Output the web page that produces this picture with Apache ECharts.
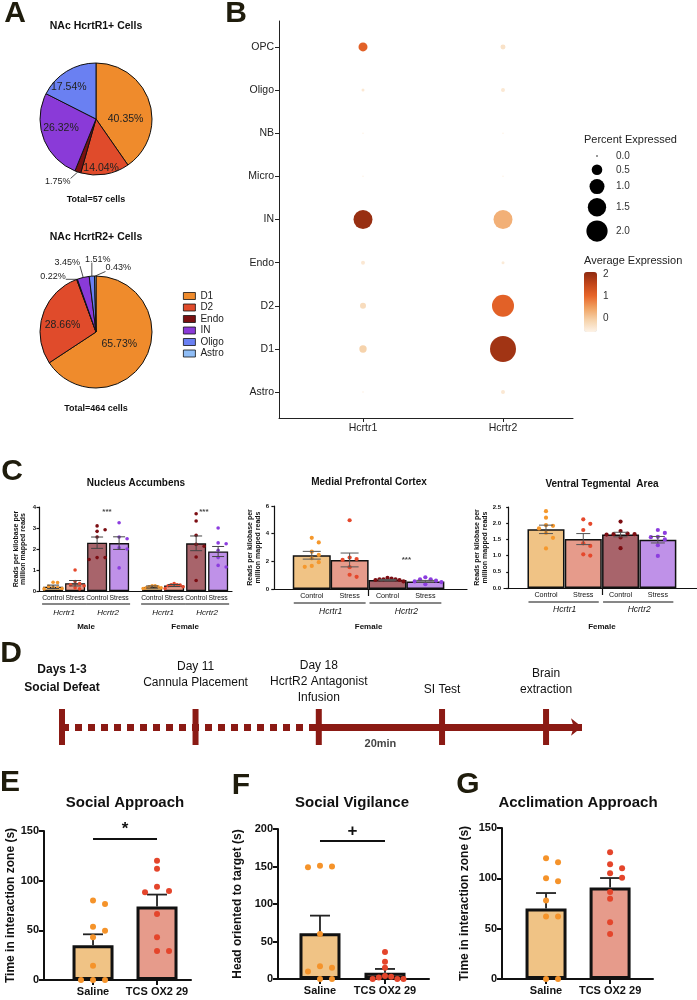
<!DOCTYPE html>
<html><head><meta charset="utf-8">
<script src="https://cdn.jsdelivr.net/npm/echarts@6/dist/echarts.min.js"></script>
<style>html,body{margin:0;padding:0;background:#fff}#c{width:697px;height:1000px}</style>
</head><body><div id="c"></div>
<script>
// ================= DATA =================
// A: pie charts (percent of cells)
const cellTypes = ['D1','D2','Endo','IN','Oligo','Astro'];
const pieR1Pct = [40.35, 14.04, 1.75, 26.32, 17.54, 0];
const pieR2Pct = [65.73, 28.66, 0.22, 3.45, 1.51, 0.43];
const pieTitles = ['NAc HcrtR1+ Cells', 'NAc HcrtR2+ Cells'];
const pieTotals = ['Total=57 cells', 'Total=464 cells'];

// B: dot plot (bottom to top)
const dotGenes = ['Hcrtr1','Hcrtr2'];
const dotCellTypes = ['Astro','D1','D2','Endo','IN','Micro','NB','Oligo','OPC'];
const pctHcrtr1 = [0.004, 0.24, 0.16, 0.07, 1.6, 0.002, 0.004, 0.04, 0.36];
const pctHcrtr2 = [0.07, 3.0, 2.15, 0.04, 1.6, 0.003, 0.003, 0.07, 0.11];
const expHcrtr1 = [-0.55, -0.1, -0.25, -0.45, 2.0, -0.6, -0.6, -0.45, 1.1];
const expHcrtr2 = [-0.45, 1.9, 1.1, -0.5, 0.3, -0.6, -0.6, -0.45, -0.35];
const pctLegendBreaks = [0.0, 0.5, 1.0, 1.5, 2.0];
const expColorTicks = [0, 1, 2];

// C: RNA-seq RPKM
const rnaGroups = ['Control','Stress','Control','Stress'];
const rnaGenes = ['Hcrtr1','Hcrtr2'];
const sexes = ['Male','Female'];
const nacMean = [[0.20, 0.37, 2.30, 2.28], [0.19, 0.26, 2.27, 1.88]];
const nacSem  = [[0.08, 0.13, 0.27, 0.30], [0.05, 0.05, 0.35, 0.24]];
const nacPts = [
  [[0.42, 0.40, 0.22, 0.18, 0.15, 0.12, 0.10],
   [1.0, 0.45, 0.35, 0.30, 0.25, 0.15, 0.10],
   [3.10, 2.92, 2.84, 2.57, 1.59, 1.59, 1.50],
   [3.25, 2.57, 2.49, 2.06, 2.00, 1.10]],
  [[0.25, 0.25, 0.20, 0.20, 0.15, 0.15, 0.12],
   [0.35, 0.30, 0.30, 0.28, 0.25, 0.20, 0.12],
   [3.68, 3.33, 2.65, 2.22, 2.13, 1.62, 0.50],
   [3.00, 2.29, 2.25, 1.94, 1.59, 1.22, 1.14]]
];
const pfcMean = [2.44, 2.10, 0.65, 0.55];
const pfcSem  = [0.28, 0.50, 0.04, 0.07];
const pfcPts = [
  [3.70, 3.37, 2.70, 2.46, 2.22, 1.94, 1.67, 1.60],
  [4.97, 2.27, 2.17, 2.10, 1.58, 1.03, 0.88],
  [0.80, 0.75, 0.70, 0.70, 0.70, 0.65, 0.65, 0.55],
  [0.85, 0.70, 0.70, 0.60, 0.55, 0.50, 0.35]
];
const vtaMean = [1.81, 1.51, 1.65, 1.49];
const vtaSem  = [0.13, 0.17, 0.07, 0.10];
const vtaPts = [
  [2.37, 2.17, 1.94, 1.92, 1.84, 1.70, 1.55, 1.22],
  [2.12, 1.98, 1.79, 1.38, 1.30, 1.04, 1.00],
  [2.05, 1.76, 1.68, 1.66, 1.66, 1.65, 1.56, 1.23],
  [1.79, 1.70, 1.58, 1.57, 1.50, 1.32, 0.99]
];
const cTitles = ['Nucleus Accumbens', 'Medial Prefrontal Cortex', 'Ventral Tegmental  Area'];
const rpkmTitle = 'Reads per kilobase per\nmillion mapped reads';

// D: timeline (schematic stage positions)
const eventLabels = ['Days 1-3\nSocial Defeat', 'Day 11\nCannula Placement', 'Day 18\nHcrtR2 Antagonist\nInfusion', 'SI Test', 'Brain\nextraction'];
const eventPos = [0, 1.04, 2, 2.96, 3.77];
const timelineEnd = 4.05;
const intervalLabel = '20min';

// E-G: behaviour
const behavGroups = ['Saline', 'TCS OX2 29'];
const approachMean = [35, 74];
const approachSem = [11, 12];
const approachPts = [[80, 76.5, 53.7, 49.7, 43, 14.4, 0, 0, 0], [120, 112, 94, 89.6, 88.3, 66.4, 43, 29.2, 29.2]];
const vigilanceMean = [61, 8.4];
const vigilanceSem = [23.5, 5];
const vigilancePts = [[151, 150, 149, 60, 17, 15, 10, 0, 0], [36, 23, 15, 4, 3, 2, 0, 0, 0]];
const acclimMean = [70, 91];
const acclimSem = [15.4, 9.3];
const acclimPts = [[120, 116, 100, 97, 78, 62, 62, 0, 0], [126, 114, 110, 105, 100.6, 86.4, 79.8, 56.3, 44.7]];
const behavTitles = ['Social Approach', 'Social Vigilance', 'Acclimation Approach'];
const behavYTitles = ['Time in interaction zone (s)', 'Head oriented to target (s)', 'Time in interaction zone (s)'];
const sigMarks = ['*', '+', null];
const sigLevel = [142, 184, null];

// ================= STYLE / LAYOUT =================
const FONT = "'Liberation Sans', Arial, Helvetica, sans-serif";
const INK = '#111';
const LETTER = '#1f1c0c';
const palette = {D1:'#ef8b2c', D2:'#e04b2b', Endo:'#7a1010', IN:'#8a3ad8', Oligo:'#6a80f2', Astro:'#8fbdf6'};
const cBar = ['#f0c385', '#e69b8b', '#a8646b', '#bf91e8'];
const cDot = ['#f5982c', '#e5482c', '#7c0d12', '#8c3ddf'];
const eBar = ['#f0c385', '#e69b8b'];
const eDot = ['#f5932a', '#e4452b'];
const timeColor = '#8b1a14';
const expColors = ['#fdf3e7', '#f6d2aa', '#f0a262', '#e8662a', '#c2461a', '#8e2a10'];

const pieLayout = [{center:[96,119], r:56, title:[96,26], total:[96,200]}, {center:[96,332], r:56, title:[96,237], total:[96,409]}];
const pieNudge = [
  {D1:[0,9], D2:[0,19], IN:[-6,-2], Oligo:[-11,-5], Endo:[-20,10]},
  {D1:[-4,-3], D2:[-4,3], Endo:[-24,-3], IN:[-16,-15], Oligo:[6,-17], Astro:[23,-8]}
];
const G = {
  B:  {left:279, top:21, width:294, height:397, xMin:0.4, xMax:2.5, yMin:0.4, yMax:9.6},
  C1: {left:39, top:507, width:193, height:84, xMin:0.36, xMax:9.13, yMax:4, yInt:1, barW:20, dot:3.6, collY:5, step:8, limit:9, cap:6, nameGap:12, lab:[13,22,36]},
  C2: {left:272, top:506, width:195, height:83, xMin:-0.05, xMax:5.1, yMax:6, yInt:2, barW:38, dot:4.2, collY:6, step:7, limit:16, cap:9, nameGap:10, lab:[14,23,38]},
  C3: {left:504, top:507, width:193, height:81, xMin:-0.126, xMax:5.05, yMax:2.5, yInt:0.5, barW:37, dot:4.2, collY:6, step:7, limit:16, cap:7, nameGap:12, lab:[14,22,39]},
  D:  {left:62, top:707, width:520, height:40, xMin:0, xMax:4.05},
  E:  {left:44, top:831, width:147, height:149, xMin:0.234, xMax:2.531, yMax:150, nameGap:26},
  F:  {left:278, top:829, width:151, height:150, xMin:0.354, xMax:2.677, yMax:200, nameGap:34},
  Gp: {left:502, top:828, width:151, height:151, xMin:0.3125, xMax:2.67, yMax:150, nameGap:31}
};
const eventLabelGap = [12, 18, 3, 11, 11];
const cStarPos = [[[3.45, 3.78], [7.85, 3.78]], [[3.5, 2.1]], []];

const sizeFn = p => Math.max(1.5, 15 * Math.sqrt(p));

// ================= HELPERS =================
// slot-based swarm: points closer than collY (px) vertically go to the next free slot; compressed to fit bar
function swarm(values, center, cfg) {
  const xPerPx = (cfg.xMax - cfg.xMin) / cfg.width;
  const yPx = cfg.height / cfg.yMax;
  const placed = [];
  const cands = [0];
  for (let i = 1; i < 30; i++) cands.push(i * cfg.step, -i * cfg.step);
  values.forEach(v => {
    const yp = v * yPx;
    let off = 0;
    for (const c of cands) {
      if (placed.every(p => !(Math.abs(p[0] - c) < cfg.step * 0.5 && Math.abs(p[1] - yp) < cfg.collY))) { off = c; break; }
    }
    placed.push([off, yp]);
  });
  const maxAbs = Math.max(1e-9, ...placed.map(p => Math.abs(p[0])));
  const k = maxAbs > cfg.limit ? cfg.limit / maxAbs : 1;
  return placed.map((p, i) => [center + p[0] * k * xPerPx, values[i]]);
}
function errRender(both, capHalf, color, lw) {
  return function (params, api) {
    const x = api.value(0), m = api.value(1), s = api.value(2);
    const top = api.coord([x, m + s]);
    const bot = api.coord([x, both ? m - s : m]);
    const st = {stroke: color, lineWidth: lw};
    const ch = [
      {type:'line', shape:{x1:top[0], y1:top[1], x2:bot[0], y2:bot[1]}, style:st},
      {type:'line', shape:{x1:top[0]-capHalf, y1:top[1], x2:top[0]+capHalf, y2:top[1]}, style:st}
    ];
    if (both) ch.push({type:'line', shape:{x1:bot[0]-capHalf, y1:bot[1], x2:bot[0]+capHalf, y2:bot[1]}, style:st});
    return {type:'group', children: ch};
  };
}
function gridOf(c) { return {left:c.left, top:c.top, width:c.width, height:c.height, containLabel:false}; }

const option = {
  animation: false, backgroundColor: '#fff', textStyle: {fontFamily: FONT},
  grid: [], xAxis: [], yAxis: [], series: []
};

// ---------- A: pies ----------
[pieR1Pct, pieR2Pct].forEach((vals, pi) => {
  const lay = pieLayout[pi];
  const data = cellTypes.map((n, i) => ({
    name: n, value: vals[i], itemStyle: {color: palette[n]},
    label: vals[i] < 5 ? {position:'outside', fontSize:9} : {position:'inside', fontSize:10.5},
    labelLine: {show: vals[i] < 5}
  })).filter(d => d.value > 0);
  option.series.push({
    type:'pie', center: lay.center, radius:[0, lay.r], startAngle:90, clockwise:true,
    avoidLabelOverlap:false, silent:true, minAngle:0,
    itemStyle:{borderColor:'#111', borderWidth:1},
    label:{show:true, color:'#222', fontFamily:FONT, formatter: p => p.value.toFixed(2) + '%'},
    labelLine:{length:6, length2:4, lineStyle:{color:'#222', width:0.8}},
    labelLayout: function (params) {
      const d = data[params.dataIndex];
      const nudge = pieNudge[pi][d.name] || [0,0];
      const r = params.labelRect;
      if (d.value >= 5) {
        return {x: r.x + r.width/2 + nudge[0], y: r.y + r.height/2 + nudge[1], align:'center', verticalAlign:'middle'};
      }
      const pts = params.labelLinePoints;
      const a = pts ? pts[0] : [lay.center[0], lay.center[1] - lay.r];
      const cx = a[0] + nudge[0], cy = a[1] + nudge[1];
      const px = Math.min(Math.max(a[0], cx - r.width/2), cx + r.width/2);
      const py = Math.min(Math.max(a[1], cy - r.height/2 + 1), cy + r.height/2 - 1);
      return {x: cx, y: cy, align:'center', verticalAlign:'middle', labelLinePoints: [a, [px, py], [px, py]]};
    },
    data: data
  });
});
option.legend = {
  data: cellTypes, orient:'vertical', left:183, top:291, itemWidth:12, itemHeight:7, itemGap:1.5,
  icon:'rect', selectedMode:false, padding:0,
  itemStyle:{borderColor:'#111', borderWidth:0.8},
  textStyle:{fontSize:10, color:'#222', fontFamily:FONT, lineHeight:10}
};

// ---------- B: dot plot ----------
option.grid.push(gridOf(G.B));
option.xAxis.push({type:'value', gridIndex:0, min:G.B.xMin, max:G.B.xMax,
  axisLine:{show:true, lineStyle:{color:'#222', width:1}},
  axisTick:{show:true, customValues:[1,2], length:4, lineStyle:{color:'#222'}},
  axisLabel:{customValues:[1,2], formatter: v => dotGenes[Math.round(v)-1], fontSize:10.5, color:'#222', margin:5},
  splitLine:{show:false}});
option.yAxis.push({type:'value', gridIndex:0, min:G.B.yMin, max:G.B.yMax,
  axisLine:{show:true, lineStyle:{color:'#222', width:1}},
  axisTick:{show:true, customValues:[1,2,3,4,5,6,7,8,9], length:4, lineStyle:{color:'#222'}},
  axisLabel:{customValues:[1,2,3,4,5,6,7,8,9], formatter: v => dotCellTypes[Math.round(v)-1], fontSize:10.5, color:'#222', margin:5},
  splitLine:{show:false}});
const dotData = [];
dotCellTypes.forEach((ct, ci) => {
  dotData.push([1, ci+1, pctHcrtr1[ci], expHcrtr1[ci]]);
  dotData.push([2, ci+1, pctHcrtr2[ci], expHcrtr2[ci]]);
});
const dotSeriesIndex = option.series.length;
option.series.push({type:'scatter', xAxisIndex:0, yAxisIndex:0, data: dotData, encode:{x:0, y:1},
  symbolSize: v => sizeFn(v[2]), silent:true, itemStyle:{opacity:1}});
option.visualMap = [{type:'continuous', seriesIndex: dotSeriesIndex, dimension:3, min:-0.63, max:2.1,
  inRange:{color: expColors}, left:584, top:272, itemWidth:13, itemHeight:60, calculable:false,
  padding:0, hoverLink:false, text:null, textStyle:{fontSize:0}}];

// ---------- C: RNA panels ----------
function addBarPanel(gi, cfg, bars, opts) {
  option.grid.push(gridOf(cfg));
  option.xAxis.push(Object.assign({type:'value', gridIndex:gi, min:cfg.xMin, max:cfg.xMax,
    axisLine:{show:true, lineStyle:{color:INK, width:opts.axW}}, splitLine:{show:false}}, opts.xAxisExtra));
  option.yAxis.push(Object.assign({type:'value', gridIndex:gi, min:0, max:cfg.yMax, interval:cfg.yInt,
    axisLine:{show:true, lineStyle:{color:INK, width:opts.axW}}, splitLine:{show:false},
    axisTick:{show:true, length:opts.tickLen, lineStyle:{color:INK, width:opts.axW}}}, opts.yAxisExtra));
  option.series.push({type:'bar', xAxisIndex:gi, yAxisIndex:gi, barWidth:cfg.barW, z:2, silent:true,
    itemStyle:{borderColor:INK, borderWidth:opts.bw},
    data: bars.map(b => ({value:[b.x, b.mean], itemStyle:{color:b.barColor}})),
    markLine: opts.markLine});
  bars.forEach(b => {
    option.series.push({type:'scatter', xAxisIndex:gi, yAxisIndex:gi, z:4, silent:true, symbolSize:cfg.dot,
      itemStyle:{color:b.dotColor, opacity:1}, data: swarm(b.pts, b.x, cfg)});
  });
  option.series.push({type:'custom', xAxisIndex:gi, yAxisIndex:gi, z:opts.errZ, silent:true, clip:false,
    renderItem: errRender(opts.both, cfg.cap, opts.errColor, opts.errW),
    data: bars.map(b => [b.x, b.mean, b.sem]), encode:{x:0, y:1}});
  if (opts.stars && opts.stars.length) {
    option.series.push({type:'scatter', xAxisIndex:gi, yAxisIndex:gi, z:6, silent:true, symbolSize:0,
      data: opts.stars, label:{show:true, position:'inside', formatter:'***', fontSize:8, fontWeight:'bold', color:INK}});
  }
}
function cXAxis(positions, fs) {
  return {
    axisTick:{show:false},
    axisLabel:{customValues: positions, formatter: v => rnaGroups[positions.findIndex(p => Math.abs(p - v) < 1e-6) % 4],
      fontSize: fs, color:INK, margin:4}
  };
}
function cYAxis(cfg, fmt) {
  return {name: rpkmTitle, nameLocation:'middle', nameGap: cfg.nameGap,
    nameTextStyle:{fontSize:7, fontWeight:'bold', color:INK, lineHeight:7.5, fontFamily:FONT},
    axisLabel:{fontSize:6, fontWeight:'bold', color:INK, margin:3, formatter: fmt}};
}
// C1
const c1Pos = [], c1Bars = [];
[0,1].forEach(s => [0,1,2,3].forEach(g => {
  const x = s * 4.5 + g + 1; c1Pos.push(x);
  c1Bars.push({x, mean: nacMean[s][g], sem: nacSem[s][g], pts: nacPts[s][g], barColor:cBar[g], dotColor:cDot[g]});
}));
addBarPanel(1, G.C1, c1Bars, {axW:1.2, tickLen:2.5, bw:1.3, both:true, errColor:'#444', errW:1, errZ:5,
  xAxisExtra: cXAxis(c1Pos, 6.8), yAxisExtra: cYAxis(G.C1, v => String(v)), stars: cStarPos[0]});
// C2
const c234Pos = [1,2,3,4];
const pfcBars = c234Pos.map((x, g) => ({x, mean:pfcMean[g], sem:pfcSem[g], pts:pfcPts[g], barColor:cBar[g], dotColor:cDot[g]}));
const sepTick = {show:true, customValues:[2.5], length:7, lineStyle:{color:INK, width:1.2}};
addBarPanel(2, G.C2, pfcBars, {axW:1.2, tickLen:2.5, bw:1.5, both:true, errColor:'#555', errW:1, errZ:5,
  xAxisExtra: Object.assign(cXAxis(c234Pos, 7.2), {axisTick: sepTick}), yAxisExtra: cYAxis(G.C2, v => String(v)), stars: cStarPos[1]});
// C3
const vtaBars = c234Pos.map((x, g) => ({x, mean:vtaMean[g], sem:vtaSem[g], pts:vtaPts[g], barColor:cBar[g], dotColor:cDot[g]}));
addBarPanel(3, G.C3, vtaBars, {axW:1.2, tickLen:2.5, bw:1.5, both:true, errColor:'#555', errW:1, errZ:5,
  xAxisExtra: Object.assign(cXAxis(c234Pos, 7.2), {axisTick: sepTick}), yAxisExtra: cYAxis(G.C3, v => v.toFixed(1))});

// ---------- D: timeline ----------
option.grid.push(gridOf(G.D));
option.xAxis.push({type:'value', gridIndex:4, min:G.D.xMin, max:G.D.xMax, show:false});
option.yAxis.push({type:'value', gridIndex:4, min:-1, max:1, show:false});
option.series.push({type:'scatter', xAxisIndex:4, yAxisIndex:4, z:5, silent:true, symbol:'rect', symbolSize:[6,36],
  itemStyle:{color:timeColor, opacity:1}, clip:false,
  label:{show:true, position:'top', color:INK, fontSize:12, fontFamily:FONT, lineHeight:16, align:'center',
    formatter: p => eventLabels[p.dataIndex]},
  data: eventPos.map((p, i) => ({value:[p, 0], label:{distance:eventLabelGap[i], fontWeight: i === 0 ? 'bold' : 'normal', lineHeight: i === 0 ? 18 : 16}})),
  markLine: {silent:true, animation:false, symbol:['none','none'], label:{show:false}, data:[
    [{coord:[eventPos[0], 0], lineStyle:{type:[7,6], width:7, color:timeColor}}, {coord:[eventPos[2], 0]}],
    [{coord:[eventPos[2], 0], lineStyle:{type:'solid', width:7, color:timeColor}}, {coord:[timelineEnd, 0], symbol:'arrow', symbolSize:[13,11]}]
  ]}
});
option.series.push({type:'scatter', xAxisIndex:4, yAxisIndex:4, silent:true, symbolSize:0, clip:false,
  data:[[(eventPos[2] + eventPos[3]) / 2, 0]],
  label:{show:true, position:'bottom', distance:11, formatter:intervalLabel, fontSize:11, fontWeight:'bold', color:INK}});

// ---------- E-G ----------
const behavCfg = [G.E, G.F, G.Gp];
const behavMeans = [approachMean, vigilanceMean, acclimMean];
const behavSems = [approachSem, vigilanceSem, acclimSem];
const behavPts = [approachPts, vigilancePts, acclimPts];
behavCfg.forEach((cfg, k) => {
  const gi = 5 + k;
  cfg.barW = 41; cfg.dot = 6; cfg.collY = 6; cfg.step = 12; cfg.limit = 18.5; cfg.cap = 10; cfg.yInt = 50;
  const bars = [0,1].map(g => ({x: g + 1, mean: behavMeans[k][g], sem: behavSems[k][g], pts: behavPts[k][g], barColor: eBar[g], dotColor: eDot[g]}));
  const ml = sigMarks[k] ? {silent:true, animation:false, symbol:['none','none'],
    lineStyle:{type:'solid', color:INK, width:2},
    label:{show:true, position:'insideMiddleTop', distance:1, formatter: sigMarks[k], fontSize:17, fontWeight:'bold', color:INK},
    data:[[{coord:[1, sigLevel[k]]}, {coord:[2, sigLevel[k]]}]]} : undefined;
  addBarPanel(gi, cfg, bars, {axW:2, tickLen:5, bw:3, both:false, errColor:'#222', errW:1.8, errZ:3,
    markLine: ml,
    xAxisExtra: {axisTick:{show:true, customValues:[1,2], length:5, lineStyle:{color:INK, width:2}},
      axisLabel:{customValues:[1,2], formatter: v => behavGroups[Math.round(v)-1], fontSize:11, fontWeight:'bold', color:INK, margin:6}},
    yAxisExtra: {name: behavYTitles[k], nameLocation:'middle', nameGap: cfg.nameGap,
      nameTextStyle:{fontSize:12, fontWeight:'bold', color:INK, fontFamily:FONT},
      axisLabel:{fontSize:11, fontWeight:'bold', color:INK, margin:5}}
  });
});

const chart = echarts.init(document.getElementById('c'), null, {renderer:'canvas'});
chart.setOption(option);

// ================= GRAPHIC ANNOTATIONS =================
function txt(x, y, text, size, o) {
  o = o || {};
  return {type:'text', x, y, silent:true, z:100, style:{text, fontSize:size, fontFamily:FONT,
    fontWeight:o.bold ? 'bold' : 'normal', fontStyle:o.italic ? 'italic' : 'normal', fill:o.color || INK,
    align:o.align || 'center', verticalAlign:o.va || 'middle'}};
}
function seg(x1, y1, x2, y2, w, color) {
  return {type:'line', silent:true, z:100, shape:{x1, y1, x2, y2}, style:{stroke:color || INK, lineWidth:w || 1}};
}
const gr = [];
// panel letters
[['A',15,14],['B',236,14],['C',12,472],['D',11,654],['E',10,783],['F',241,786],['G',468,785]].forEach(l =>
  gr.push(txt(l[1], l[2], l[0], 30, {bold:true, color:LETTER})));
// pie titles / totals
pieLayout.forEach((lay, i) => {
  gr.push(txt(lay.title[0], lay.title[1], pieTitles[i], 10.5, {bold:true}));
  gr.push(txt(lay.total[0], lay.total[1], pieTotals[i], 9, {bold:true}));
});
// B legends
gr.push(txt(584, 140, 'Percent Expressed', 11, {align:'left', color:'#222'}));
let ly = 156, prevH = null;
pctLegendBreaks.forEach(b => {
  const d = sizeFn(b), h = Math.max(d + 4, 13);
  if (prevH !== null) ly += (prevH + h) / 2;
  gr.push({type:'circle', silent:true, z:100, shape:{cx:597, cy:ly, r:d/2}, style:{fill:'#000'}});
  gr.push(txt(616, ly, b.toFixed(1), 10, {align:'left', color:'#333'}));
  prevH = h;
});
gr.push(txt(584, 261, 'Average Expression', 11, {align:'left', color:'#222'}));
expColorTicks.forEach(t => {
  const y = 272 + (2.1 - t) / (2.1 - (-0.63)) * 60;
  gr.push(txt(603, y, String(t), 10, {align:'left', color:'#333'}));
});
// C titles
[[136,483],[369,482],[602,484]].forEach((p, i) => gr.push(txt(p[0], p[1], cTitles[i], 10, {bold:true})));
// C group labels
function groupLabels(gi, cfg, positions, sexLabelsAt, bw, inset, gfs, sfs) {
  const base = chart.convertToPixel({gridIndex:gi}, [positions[0], 0])[1];
  for (let k = 0; k < positions.length; k += 2) {
    const a = chart.convertToPixel({gridIndex:gi}, [positions[k], 0])[0];
    const b = chart.convertToPixel({gridIndex:gi}, [positions[k+1], 0])[0];
    gr.push(seg(a - bw/2 + inset[0], base + cfg.lab[0], b + bw/2 - inset[1], base + cfg.lab[0], 1.2));
    gr.push(txt((a + b)/2, base + cfg.lab[1], rnaGenes[(k/2) % 2], gfs, {italic:true}));
  }
  sexLabelsAt.forEach(s => {
    const a = chart.convertToPixel({gridIndex:gi}, [s[0], 0])[0];
    gr.push(txt(a, base + cfg.lab[2], s[1], sfs, {bold:true}));
  });
}
groupLabels(1, G.C1, c1Pos, [[2.5, sexes[0]], [7, sexes[1]]], 20, [-1, -1], 8, 8);
groupLabels(2, G.C2, c234Pos, [[2.5, sexes[1]]], 38, [1, 3], 8.5, 8);
groupLabels(3, G.C3, c234Pos, [[2.5, sexes[1]]], 37, [1, 3], 8.5, 8);
// E-G titles
[[125,803],[352,803],[578,803]].forEach((p, i) => gr.push(txt(p[0], p[1], behavTitles[i], 15, {bold:true})));

chart.setOption({graphic: gr});
</script>
</body></html>
